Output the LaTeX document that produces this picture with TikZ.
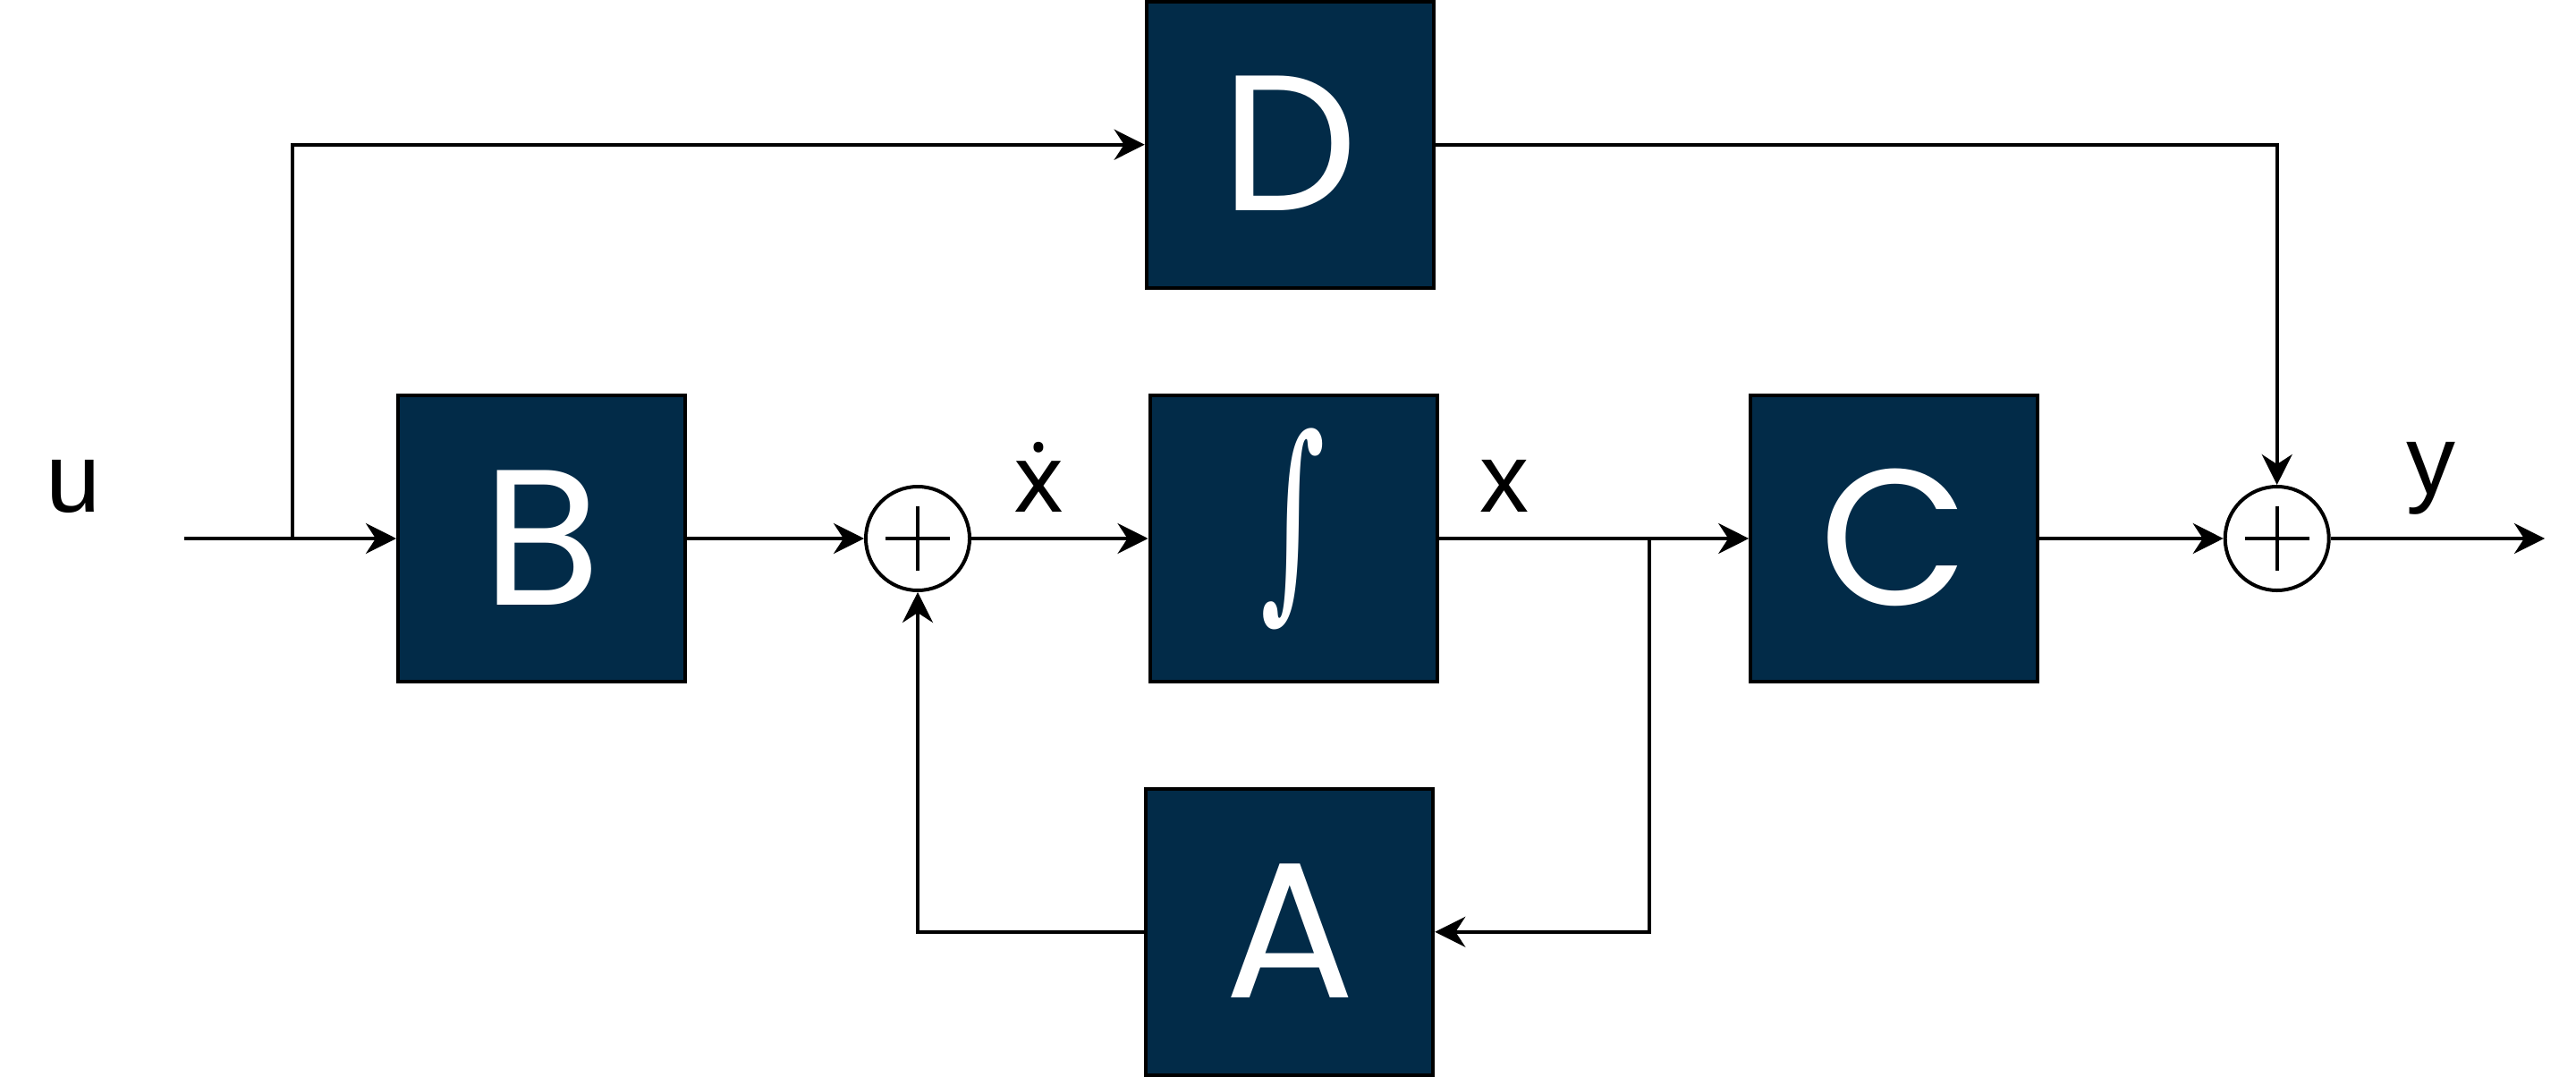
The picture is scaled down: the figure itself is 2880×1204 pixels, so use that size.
\documentclass[tikz,border=0pt]{standalone}
\usepackage{fontspec}
\usepackage{graphicx}
\setmainfont{Liberation Sans}
\newfontfamily\boxfont{Poppins}
\newfontfamily\intfont{DejaVu Serif}
\newfontfamily\dotfont{Noto Sans}
\usetikzlibrary{arrows.meta}
\definecolor{navy}{RGB}{2,43,72}
\begin{document}
\begin{tikzpicture}[x=1pt,y=-1pt,
  blk/.style={draw=black, line width=4pt, fill=navy, minimum width=321pt, minimum height=320pt,
    inner sep=0pt, text=white, font=\boxfont\fontsize{216}{216}\selectfont,
    text height=148pt, text depth=0pt},
  sumnode/.style={circle, draw=black, line width=4pt, fill=white, minimum size=116pt, inner sep=0pt,
    path picture={
      \draw[line width=4pt] ([xshift=-36pt]path picture bounding box.center) -- ([xshift=36pt]path picture bounding box.center);
      \draw[line width=4pt] ([yshift=-36pt]path picture bounding box.center) -- ([yshift=36pt]path picture bounding box.center);
    }},
  arr/.style={line width=4pt, -{Stealth[length=34pt,width=34pt,inset=11pt]}},
  lbl/.style={font=\fontsize{110}{110}\selectfont, anchor=base, inner sep=0pt}]
\useasboundingbox (0,0) rectangle (2880,1204);
% blocks
\node[blk] (D) at (1442.2,161.7) {D};
\node[blk] (B) at (605.5,602) {B};
\node[blk] (I) at (1446,602) {};
\node[blk] (C) at (2117.7,602) {C};
\node[blk] (A) at (1441.8,1041.8) {A};
\node[text=white, font=\intfont\fontsize{240}{240}\selectfont, inner sep=0pt] (int) at (1446,591.7) {\scalebox{0.58}[1]{∫}};
% summing junctions
\node[sumnode] (S1) at (1026,602) {};
\node[sumnode] (S2) at (2545.7,602) {};
% free ends and branch points
\coordinate (in) at (206,602);
\coordinate (out) at (2845,602);
\coordinate (bu) at (326.5,602);
\coordinate (bx) at (1844,602);
% connectors
\draw[arr] (in) -- (B.west);
\draw[arr] (bu) |- (D.west);
\draw[arr] (D.east) -| (S2.north);
\draw[arr] (B.east) -- (S1.west);
\draw[arr] (S1.east) -- (I.west);
\draw[arr] (I.east) -- (C.west);
\draw[arr] (bx) |- (A.east);
\draw[arr] (A.west) -| (S1.south);
\draw[arr] (C.east) -- (S2.west);
\draw[arr] (S2.east) -- (out);
% labels
\node[lbl] (lu) at (81.6,572) {u};
\node[lbl, font=\dotfont\fontsize{106}{106}\selectfont] (lxd) at (1161.7,572) {ẋ};
\node[lbl] (lx) at (1682,572) {x};
\node[lbl] (ly) at (2718,552) {y};
\end{tikzpicture}
\end{document}
